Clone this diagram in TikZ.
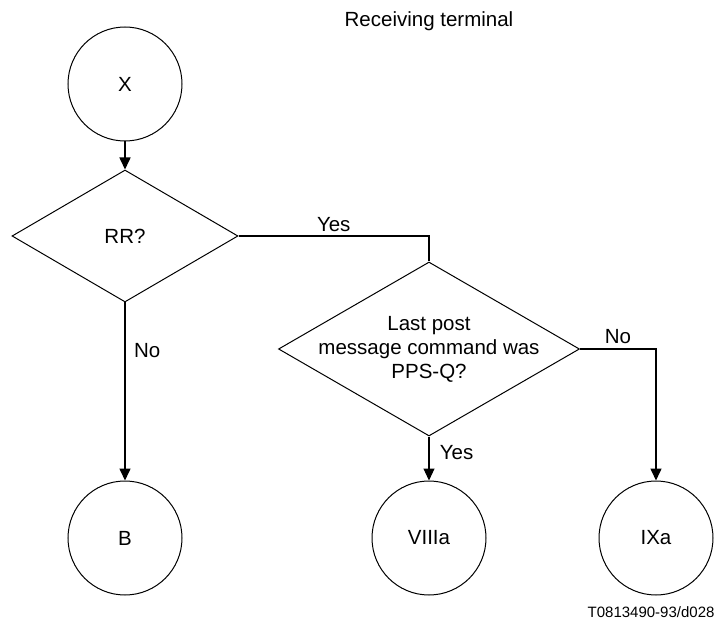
\documentclass[tikz,border=0pt]{standalone}
\usepackage{fontspec}
\setmainfont{Liberation Sans}
\usetikzlibrary{shapes.geometric,arrows.meta}
\begin{document}
\begin{tikzpicture}[x=1pt,y=-1pt,
  every node/.style={font=\fontsize{20.5}{24}\selectfont},
  term/.style={draw,circle,minimum size=114pt,inner sep=0pt,line width=1pt},
  decision/.style={draw,diamond,inner sep=0pt,line width=1pt},
  conn/.style={line width=1.1pt},
  heavy/.style={line width=1.6pt},
  arr/.style={-{Triangle[length=12pt,width=11pt]}}]
\path[use as bounding box] (0,0) rectangle (724,623);

\node[anchor=base] (title) at (429,27) {Receiving terminal};

\node[term] (X) at (125,84) {X};
\node[decision,minimum width=226pt,minimum height=132pt] (RR) at (125,236) {RR?};
\node[decision,minimum width=301pt,minimum height=174pt,
  label={[align=center,inner sep=0pt]center:Last post\\message command was\\PPS-Q?}] (D2) at (429,349) {};

\node[term] (B) at (125,538) {B};
\node[term] (V) at (429,538) {VIIIa};
\node[term] (IX) at (656,538) {IXa};

\node[anchor=east,font=\fontsize{15}{18}\selectfont] (ref) at (718,612) {T0813490-93/d028};

\draw[heavy,arr] (X) -- (RR);
\draw[conn] (RR.east) -| node[pos=0.25,above] (yes1) {Yes} (D2.north);
\draw[heavy,arr] (RR.south) -- node[pos=0.27,right=5pt] (no1) {No} (B.north);
\draw[conn,arr] (D2.south) -- node[pos=0.36,right=7pt] (yes2) {Yes} (V.north);
\draw[heavy,arr] (D2.east) -| node[pos=0.25,above,inner sep=4.5pt] (no2) {No} (IX.north);
\end{tikzpicture}
\end{document}
